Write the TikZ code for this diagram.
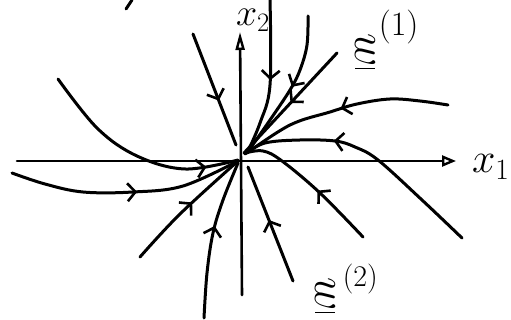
\RequirePackage{fix-cm}
\documentclass[tikz,border=0pt]{standalone}
\usepackage{graphicx}
\usetikzlibrary{arrows.meta,decorations.markings}
\tikzset{
  traj/.style={line width=3pt, line cap=round, line join=round},
  midarr/.style={postaction={decorate}, decoration={markings,
     mark=at position #1 with {\arrow{Straight Barb[length=8pt,width=18pt,line width=2.6pt]}}}},
  axisline/.style={line width=2.6pt, line cap=round},
  lbl/.style={inner sep=0pt, outer sep=0pt, anchor=base west},
}
\begin{document}
\begin{tikzpicture}[x=1pt,y=-1pt]
\fill[white] (0,0) rectangle (511,320);
\useasboundingbox (0,0) rectangle (511,320);
% origin
\coordinate (O) at (240,158);
% axes
\coordinate (x1s) at (17,161);
\coordinate (x1e) at (456,161);
\coordinate (x2s) at (242,295);
\coordinate (x2e) at (240,32);
\draw[axisline,-{Triangle[open,length=14pt,width=11pt,line width=2.4pt]}] (x1s) -- (x1e);
\draw[axisline,-{Triangle[open,length=18pt,width=9pt,line width=2.4pt]}] (x2s) -- (x2e);
% stray stroke at the top
\coordinate (s1) at (126,9);
\coordinate (s2) at (132,0);
\draw[traj] (s1) -- (s2);
% trajectories
\draw[traj,midarr=0.85] plot[smooth,tension=0.6] coordinates {(58,79) (97,128) (137,156) (185,169) (238,160)};
\coordinate (c2a) at (193,34);
\coordinate (c2b) at (236,145);
\draw[traj,midarr=0.6] (c2a) -- (c2b);
\draw[traj,midarr=0.51] plot[smooth,tension=0.6] coordinates {(270,0) (270,85) (260,123) (247,153)};
\draw[traj,midarr=0.48] plot[smooth,tension=0.6] coordinates {(308,16) (307,45) (300,70) (290,90) (270,120) (247,153)};
\coordinate (c5a) at (337,53);
\coordinate (c5b) at (244,153);
\draw[traj,midarr=0.5] (c5a) -- (c5b);
\draw[traj,midarr=0.51] plot[smooth,tension=0.6] coordinates {(448,105) (420,101) (390,99) (357,104) (330,112) (290,125) (247,153)};
\draw[traj,midarr=0.64] plot[smooth,tension=0.6] coordinates {(462,238) (422,200) (378,160) (355,147) (335,141) (300,140) (265,143) (245,154)};
\draw[traj,midarr=0.43] plot[smooth,tension=0.6] coordinates {(363,237) (320,193) (282,161) (263,151) (245,153)};
\coordinate (c9a) at (293,281);
\coordinate (c9b) at (248,167);
\draw[traj,midarr=0.535] (c9a) -- (c9b);
\draw[traj,midarr=0.545] plot[smooth,tension=0.6] coordinates {(12,173) (45,184) (83,192) (133,192) (183,186) (238,161)};
\draw[traj,midarr=0.55] plot[smooth,tension=0.6] coordinates {(140,257) (180,214) (238,161)};
\draw[traj,midarr=0.58] plot[smooth,tension=0.6] coordinates {(204,318) (207,273) (213,233) (223,200) (238,163)};
% labels
\node[lbl] (lx2) at (236,26) {\fontsize{38}{38}\selectfont$x_2$};
\node[lbl] (lx1) at (472,173) {\fontsize{42}{42}\selectfont$x_1$};
\node[lbl] (w1) at (355,60) {\underline{\rotatebox[origin=c]{-90}{\fontsize{46}{46}\selectfont$w$}}\hspace{4pt}\raisebox{24pt}{\fontsize{34}{34}\selectfont(1)}};
\node[lbl] (w2) at (315,304) {\underline{\rotatebox[origin=c]{-90}{\fontsize{46}{46}\selectfont$w$}}\hspace{8pt}\raisebox{18pt}{\fontsize{30}{30}\selectfont(2)}};
\end{tikzpicture}
\end{document}
